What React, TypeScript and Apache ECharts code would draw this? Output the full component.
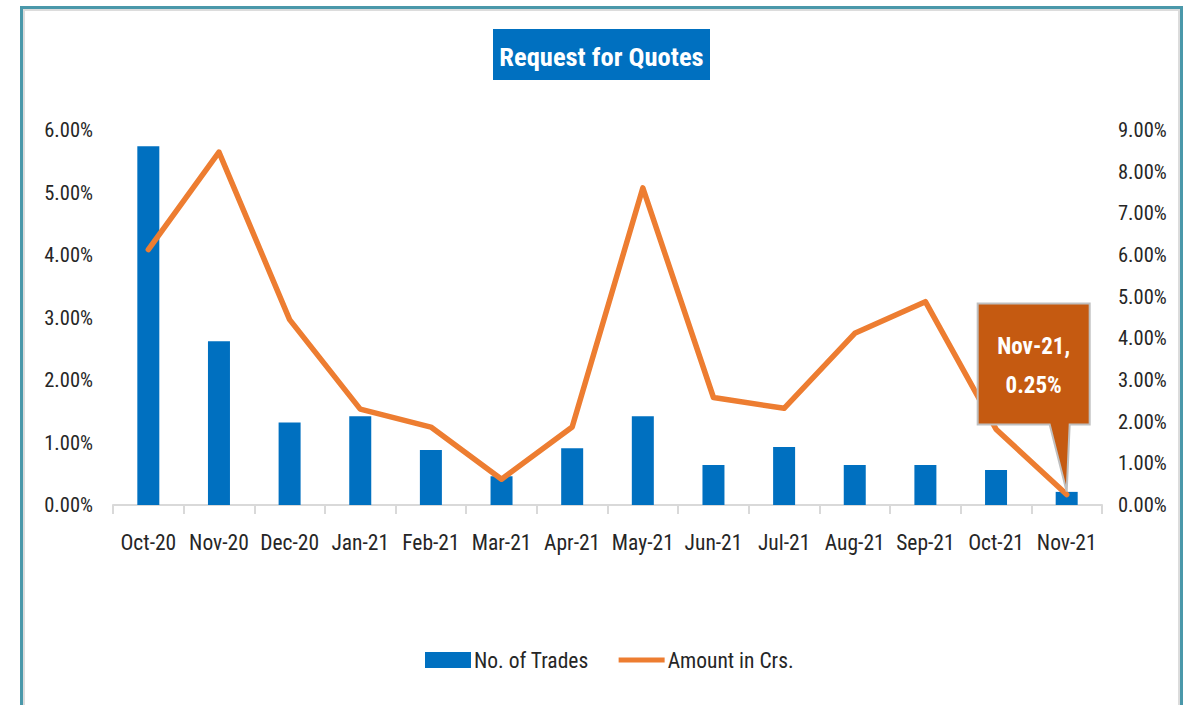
import React, { useEffect, useRef } from "react";
import * as echarts from "echarts";

const categories = ["Oct-20", "Nov-20", "Dec-20", "Jan-21", "Feb-21", "Mar-21", "Apr-21", "May-21", "Jun-21", "Jul-21", "Aug-21", "Sep-21", "Oct-21", "Nov-21"];
const noOfTrades = [5.74, 2.62, 1.32, 1.42, 0.88, 0.46, 0.91, 1.42, 0.64, 0.93, 0.64, 0.64, 0.56, 0.21];
const amountInCrs = [6.13, 8.47, 4.45, 2.3, 1.87, 0.62, 1.87, 7.61, 2.58, 2.32, 4.12, 4.88, 1.82, 0.25];
const leftTicks = { min: 0, max: 6, interval: 1 };
const rightTicks = { min: 0, max: 9, interval: 1 };
const calloutIndex = 13;

const FONT = "'Liberation Sans Narrow', 'Roboto Condensed', 'Open Sans', sans-serif";
const LINE_ICON = "path://M0,0L0.01,0M0,5.5L46,5.5L46,10.5L0,10.5ZM46,16L45.99,16";

export default function App() {
  const ref = useRef<HTMLDivElement>(null);
  useEffect(() => {
    if (!ref.current) return;
    const chart = echarts.init(ref.current, undefined, { renderer: "svg" });
    const fmt = (v: number) => `${v.toFixed(2)}%`;
    chart.setOption({
      animation: false,
      backgroundColor: "#ffffff",
      textStyle: { fontFamily: FONT },
      grid: { left: 113, right: 87, top: 130, bottom: 200, containLabel: false },
      legend: {
        bottom: 29,
        left: 420,
        itemWidth: 46,
        itemHeight: 16,
        itemGap: 30,
        textStyle: { fontSize: 21.5, color: "#262626", fontFamily: FONT, padding: [0, 0, 0, -2] },
        data: [
          { name: "No. of Trades", icon: "rect" },
          { name: "Amount in Crs.", icon: LINE_ICON, itemStyle: { color: "#ED7D31" } },
        ],
      },
      xAxis: {
        type: "category",
        data: categories,
        axisLine: { lineStyle: { color: "#d9d9d9", width: 2 } },
        axisTick: { show: true, length: 9, lineStyle: { color: "#d9d9d9", width: 2 } },
        axisLabel: { fontSize: 21.5, color: "#262626", margin: 26, interval: 0, fontFamily: FONT },
      },
      yAxis: [
        {
          type: "value",
          ...leftTicks,
          splitLine: { show: false },
          axisLine: { show: false },
          axisTick: { show: false },
          axisLabel: { fontSize: 20.5, color: "#262626", formatter: fmt, margin: 20, fontFamily: FONT },
        },
        {
          type: "value",
          ...rightTicks,
          splitLine: { show: false },
          axisLine: { show: false },
          axisTick: { show: false },
          axisLabel: { fontSize: 20.5, color: "#262626", formatter: fmt, margin: 16, fontFamily: FONT },
        },
      ],
      series: [
        {
          name: "No. of Trades",
          type: "bar",
          yAxisIndex: 0,
          data: noOfTrades,
          barWidth: 22,
          itemStyle: { color: "#0070C0" },
        },
        {
          name: "Amount in Crs.",
          type: "line",
          yAxisIndex: 1,
          data: amountInCrs,
          symbol: "none",
          showSymbol: false,
          lineStyle: { color: "#ED7D31", width: 5.5, cap: "round", join: "round" },
          itemStyle: { color: "#ED7D31" },
          z: 3,
        },
      ],
    });

    const p = chart.convertToPixel({ seriesIndex: 1 }, [calloutIndex, amountInCrs[calloutIndex]]) as number[];
    const px = p[0];
    const py = p[1];
    const bl = px - 89, br = px + 23, bt = py - 191, bb = py - 70;
    chart.setOption({
      graphic: [
        {
          type: "rect",
          shape: { x: 21.5, y: 7.5, width: 1160, height: 760 },
          style: { fill: "none", stroke: "#4A98AA", lineWidth: 3 },
          silent: true,
        },
        {
          type: "rect",
          shape: { x: 24, y: 10, width: 1155, height: 760 },
          style: { fill: "none", stroke: "#dcdcdc", lineWidth: 2 },
          silent: true,
        },
        {
          type: "rect",
          shape: { x: 493, y: 29, width: 217, height: 51 },
          style: { fill: "#0070C0" },
        },
        {
          type: "text",
          x: 601.5,
          y: 56,
          style: {
            text: "Request for Quotes",
            fill: "#ffffff",
            font: `bold 26.5px ${FONT}`,
            align: "center",
            verticalAlign: "middle",
          },
        },
        {
          type: "polygon",
          shape: {
            points: [
              [bl, bt], [br, bt], [br, bb], [px + 3, bb], [px, py - 3], [px - 17, bb], [bl, bb],
            ],
          },
          style: { fill: "#C55A11", stroke: "#bfbfbf", lineWidth: 2 },
          z: 10,
        },
        {
          type: "text",
          x: (bl + br) / 2,
          y: bt + 43,
          z: 11,
          style: {
            text: "Nov-21,",
            fill: "#ffffff",
            font: `bold 23px ${FONT}`,
            align: "center",
            verticalAlign: "middle",
          },
        },
        {
          type: "text",
          x: (bl + br) / 2,
          y: bt + 82,
          z: 11,
          style: {
            text: "0.25%",
            fill: "#ffffff",
            font: `bold 23px ${FONT}`,
            align: "center",
            verticalAlign: "middle",
          },
        },
      ],
    });
    return () => chart.dispose();
  }, []);
  return <div ref={ref} style={{ position: "fixed", left: 0, top: 0, width: 1189, height: 705 }} />;
}
